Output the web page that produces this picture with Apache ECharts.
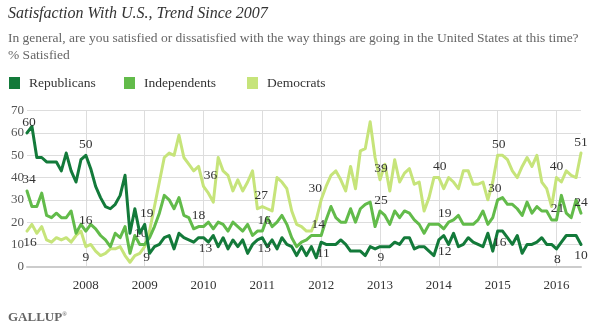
<!DOCTYPE html>
<html><head><meta charset="utf-8">
<script src="https://cdn.jsdelivr.net/npm/echarts@6/dist/echarts.min.js"></script>
<style>html,body{margin:0;padding:0;background:#fff}#c{width:589px;height:329px}</style>
</head><body><div id="c"></div>
<script>
// Monthly categories, Jan 2007 .. Jun 2016
const startYear = 2007;
const monthCount = 114;
const categories = [];
for (let i = 0; i < monthCount; i++) {
  const y = startYear + Math.floor(i / 12), m = i % 12 + 1;
  categories.push(y + '-' + (m < 10 ? '0' : '') + m);
}
const yearTicks = ['2008','2009','2010','2011','2012','2013','2014','2015','2016'];
const yTicks = [0,10,20,30,40,50,60,70];

const republicans = [
  60,63,49,49,47,47,47,43,51,43,38,48,
  50,44,36,31,27,26,28,32,41,15,26,15,
  19,6,9,10,13,14,8,15,13,12,11,13,
  13,11,14,9,13,8,12,9,12,6,10,12,
  13,9,12,8,13,10,9,5,9,5,9,4,
  11,10,10,10,12,10,7,7,7,5,9,8,
  9,9,9,11,10,13,13,8,9,9,7,5,
  12,14,10,15,9,10,13,11,10,9,15,7,
  16,16,13,10,14,6,10,10,11,13,10,10,
  8,11,14,14,14,10
];
const independents = [
  34,27,27,33,23,22,24,22,22,25,15,19,
  16,19,17,14,12,9,15,13,18,6,14,10,
  10,13,18,24,32,30,26,31,23,22,17,18,
  18,20,17,20,19,16,20,18,16,19,14,16,
  16,22,18,20,23,19,13,9,11,12,14,14,
  14,21,27,22,20,20,26,20,26,28,29,18,
  25,23,19,25,22,25,24,21,19,15,19,19,
  19,17,20,21,23,19,19,19,21,25,19,22,
  30,31,28,28,26,23,29,24,27,25,25,21,
  21,32,24,22,30,24
];
const democrats = [
  16,19,15,18,12,11,13,12,13,11,14,16,
  9,10,7,5,6,8,8,9,5,2,5,6,
  9,16,27,38,49,51,50,59,49,46,43,45,
  36,33,29,49,43,41,34,39,34,38,43,26,
  27,26,25,40,38,35,25,19,18,16,16,21,
  30,36,41,43,39,34,45,35,52,53,65,49,
  39,46,34,48,38,42,44,37,38,25,31,40,
  40,35,40,38,35,43,43,37,37,38,30,38,
  50,50,48,43,40,45,49,45,50,38,35,27,
  40,38,43,41,40,51
];

// Label placement (style only): index -> [position, dx]
const labelsR = {0:['top',2],12:['top',0],24:['top',2],36:['bottom',2],48:['bottom',2],60:['bottom',2],72:['bottom',1],84:['bottom',6],96:['bottom',2],108:['bottom',1],113:['bottom',0]};
const labelsI = {0:['top',2],12:['top',0],24:['top',-4],36:['top',-5],48:['top',2],60:['top',-3],72:['top',1],84:['top',6],96:['top',-3],108:['top',1],113:['top',0]};
const labelsD = {0:['bottom',3],12:['bottom',0],24:['bottom',2],36:['top',7],48:['top',-1],60:['top',-6],72:['top',1],84:['top',1],96:['top',1],108:['top',0],113:['top',0]};

const FONT = 'Liberation Serif';
function build(values, labels) {
  return values.map((v, i) => {
    const l = labels[i];
    if (!l) return v;
    return {value: v, label: {show: true, position: l[0], offset: [l[1], 0], distance: 4,
      color: '#333', fontFamily: FONT, fontSize: 13.5}};
  });
}
function isJan(i) { const c = categories[i]; return c.endsWith('-01') && yearTicks.indexOf(c.slice(0,4)) >= 0; }

const colors = {R: '#137a3a', I: '#62bb4a', D: '#c6e47a'};
const chart = echarts.init(document.getElementById('c'));
const lineCommon = {type: 'line', symbol: 'circle', symbolSize: 0, showSymbol: true,
  lineStyle: {width: 3, cap: 'round', join: 'round'}, label: {show: false}, emphasis: {disabled: true}};
chart.setOption({
  animation: false,
  title: [
    {text: 'Satisfaction With U.S., Trend Since 2007', left: 8, top: 6, padding: 0,
      textStyle: {fontFamily: FONT, fontStyle: 'italic', fontWeight: 'normal', fontSize: 16, color: '#333'}},
    {text: 'In general, are you satisfied or dissatisfied with the way things are going in the United States at this time?', left: 8, top: 31, padding: 0,
      textStyle: {fontFamily: FONT, fontWeight: 'normal', fontSize: 13.5, color: '#666'}},
    {text: '% Satisfied', left: 8, top: 48, padding: 0,
      textStyle: {fontFamily: FONT, fontWeight: 'normal', fontSize: 13.5, color: '#666'}},
    {text: '{a|GALLUP}{b|®}', left: 8, top: 311, padding: 0,
      textStyle: {rich: {a: {fontFamily: FONT, fontSize: 13, color: '#666'}, b: {fontFamily: FONT, fontSize: 6, color: '#666', verticalAlign: 'top'}}}}
  ],
  legend: [
    {data: ['Republicans'], left: 9, top: 76},
    {data: ['Independents'], left: 124, top: 76},
    {data: ['Democrats'], left: 247, top: 76}
  ].map(l => Object.assign(l, {padding: 0, icon: 'rect', itemWidth: 11, itemHeight: 12,
      textStyle: {fontFamily: FONT, fontSize: 13.5, color: '#333', padding: [0,0,0,4]}})),
  grid: {left: 27, right: 8, top: 110.7, bottom: 62.3, containLabel: false},
  xAxis: {type: 'category', data: categories, boundaryGap: false,
    axisLine: {show: true, lineStyle: {color: '#ccc', width: 2}},
    axisTick: {show: false},
    axisLabel: {interval: (i) => isJan(i), formatter: (v) => v.slice(0,4), margin: 12,
      fontFamily: FONT, fontSize: 13, color: '#333'},
    splitLine: {show: true, interval: (i) => isJan(i), lineStyle: {color: '#ddd', width: 1}}
  },
  yAxis: {type: 'value', min: yTicks[0], max: yTicks[yTicks.length-1], interval: 10,
    axisLine: {show: false}, axisTick: {show: false},
    axisLabel: {margin: 3, fontFamily: FONT, fontSize: 13, color: '#555'},
    splitLine: {lineStyle: {color: '#ddd', width: 1}}
  },
  series: [
    Object.assign({}, lineCommon, {name: 'Democrats', data: build(democrats, labelsD), z: 2,
      itemStyle: {color: colors.D}, lineStyle: Object.assign({}, lineCommon.lineStyle, {color: colors.D})}),
    Object.assign({}, lineCommon, {name: 'Independents', data: build(independents, labelsI), z: 3,
      itemStyle: {color: colors.I}, lineStyle: Object.assign({}, lineCommon.lineStyle, {color: colors.I})}),
    Object.assign({}, lineCommon, {name: 'Republicans', data: build(republicans, labelsR), z: 4,
      itemStyle: {color: colors.R}, lineStyle: Object.assign({}, lineCommon.lineStyle, {color: colors.R})})
  ]
});
</script></body></html>
